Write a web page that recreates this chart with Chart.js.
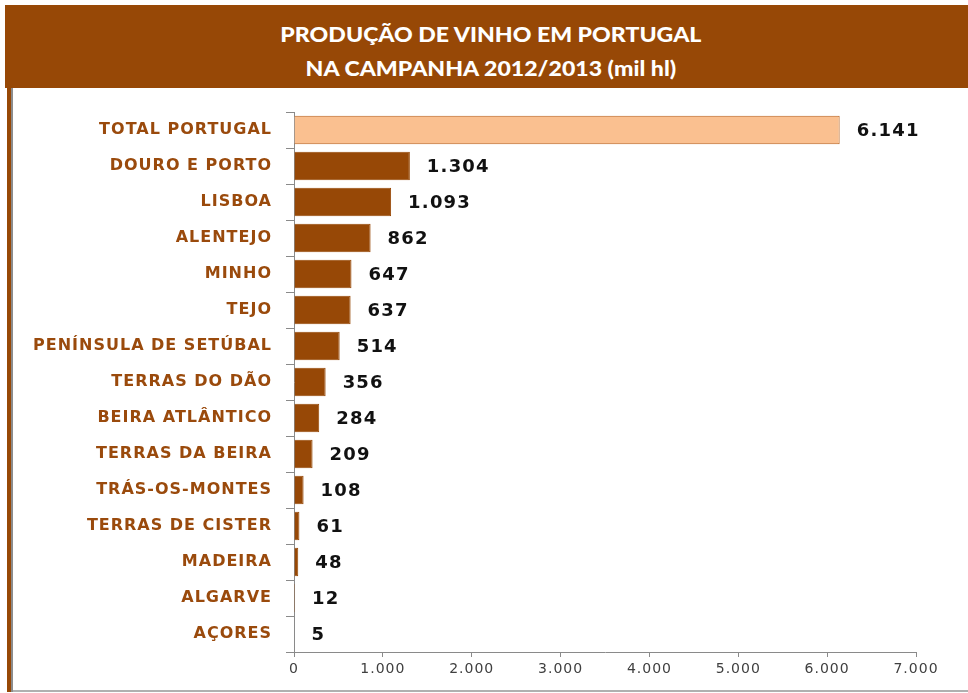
<!DOCTYPE html>
<html>
<head>
<meta charset="utf-8">
<script src="https://cdn.jsdelivr.net/npm/chart.js@4"></script>
<style>
    body { margin: 0; width: 968px; height: 693px; background: #fff; position: relative; overflow: hidden; }
    #banner {
        position: absolute; left: 5px; top: 5px; width: 963px; height: 83px;
        background: #974806; color: #fff;
        padding-top: 12px; box-sizing: border-box;
    }
    #banner div {
        text-align: center; padding-left: 8px;
        font-family: Lato, "Open Sans", sans-serif; font-weight: 900; font-size: 21px; line-height: 34px;
        transform: scaleX(1.1); transform-origin: 50% 50%;
    }
    #leftBar { position: absolute; left: 7px; top: 88px; width: 4px; height: 604px; background: #974806; border-right: 2px solid #8c8c8c; }
    #bottomLine { position: absolute; left: 13px; top: 690px; width: 955px; height: 2px; background: #b0b0b0; }
    #chart { position: absolute; left: 0; top: 88px; }
</style>
</head>
<body>
<div id="banner"><div>PRODUÇÃO DE VINHO EM PORTUGAL<br>NA CAMPANHA 2012/2013 (mil hl)</div></div>
<div id="leftBar"></div>
<div id="bottomLine"></div>
<canvas id="chart" width="968" height="605"></canvas>
<script>
// Data (mil hl)
const regions = [
    'TOTAL PORTUGAL', 'DOURO E PORTO', 'LISBOA', 'ALENTEJO', 'MINHO', 'TEJO',
    'PENÍNSULA DE SETÚBAL', 'TERRAS DO DÃO', 'BEIRA ATLÂNTICO', 'TERRAS DA BEIRA',
    'TRÁS-OS-MONTES', 'TERRAS DE CISTER', 'MADEIRA', 'ALGARVE', 'AÇORES'
];
const production = [6141, 1304, 1093, 862, 647, 637, 514, 356, 284, 209, 108, 61, 48, 12, 5];
const xTicks = [0, 1000, 2000, 3000, 4000, 5000, 6000, 7000];

const colors = {
    brown: '#974806',
    label: '#9a4a0c',
    total: '#FAC090',
    totalBorder: '#B85F1A',
    axis: '#8a8a8a',
    tickText: '#404040',
    value: '#111111'
};

// pt-PT style thousands separator
function fmt(v) {
    return String(v).replace(/\B(?=(\d{3})+(?!\d))/g, '.');
}

// small inline plugin for the value labels at the end of bars
const valueLabels = {
    id: 'valueLabels',
    beforeDraw(chart) {
        // the original is a bit stretched horizontally
        chart.ctx.letterSpacing = '1px';
    },
    afterDatasetsDraw(chart) {
        const ctx = chart.ctx;
        const meta = chart.getDatasetMeta(0);
        ctx.save();
        ctx.letterSpacing = '1.2px';
        ctx.font = 'bold 18px "DejaVu Sans"';
        ctx.fillStyle = colors.value;
        ctx.textAlign = 'left';
        ctx.textBaseline = 'middle';
        meta.data.forEach((bar, i) => {
            ctx.fillText(fmt(production[i]), bar.x + 17, bar.y + 1);
        });
        ctx.restore();
    }
};

new Chart(document.getElementById('chart'), {
    type: 'bar',
    data: {
        labels: regions,
        datasets: [{
            data: production,
            backgroundColor: production.map((v, i) => i === 0 ? colors.total : colors.brown),
            borderColor: production.map((v, i) => i === 0 ? colors.totalBorder : colors.brown),
            borderWidth: 1,
            barPercentage: 0.79,
            categoryPercentage: 1
        }]
    },
    options: {
        indexAxis: 'y',
        responsive: false,
        devicePixelRatio: 1,
        animation: false,
        layout: { padding: { top: 24, right: 52, left: 0, bottom: 0 } },
        plugins: {
            legend: { display: false },
            tooltip: { enabled: false }
        },
        scales: {
            x: {
                min: 0,
                max: 7000,
                afterFit(scale) { scale.height = 41; },
                afterBuildTicks(scale) { scale.ticks = xTicks.map(v => ({ value: v })); },
                grid: { drawOnChartArea: false, tickLength: 5, color: colors.axis },
                border: { color: colors.axis },
                ticks: {
                    color: colors.tickText,
                    padding: 4,
                    font: { family: '"DejaVu Sans"', size: 14 },
                    callback: v => fmt(v)
                }
            },
            y: {
                afterFit(scale) { scale.width = 294; },
                grid: { drawOnChartArea: false, tickLength: 8, color: colors.axis, offset: true },
                border: { color: colors.axis },
                ticks: {
                    color: colors.label,
                    padding: 14,
                    autoSkip: false,
                    font: { family: '"DejaVu Sans"', size: 16, weight: 'bold' }
                }
            }
        }
    },
    plugins: [valueLabels]
});
</script>
</body>
</html>
